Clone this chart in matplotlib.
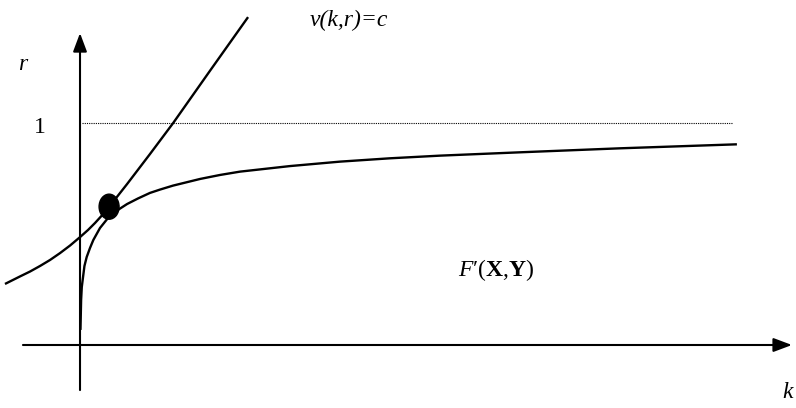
import matplotlib.pyplot as plt
from matplotlib.patches import Ellipse

plt.rcParams['font.family'] = ['Liberation Serif', 'DejaVu Serif']
plt.rcParams['mathtext.fontset'] = 'custom'
plt.rcParams['mathtext.rm'] = 'Liberation Serif'
plt.rcParams['mathtext.it'] = 'Liberation Serif:italic'
plt.rcParams['mathtext.bf'] = 'Liberation Serif:bold'

# F'(X,Y) curve (concave, starts on the r axis)
fk = [0.002, 0.005, 0.008, 0.012, 0.020, 0.030, 0.045, 0.060, 0.090, 0.126, 0.167,
      0.212, 0.261, 0.315, 0.360, 0.419, 0.480, 0.541, 0.631, 0.721, 0.946, 1.171,
      1.396, 1.622, 1.982, 2.432, 2.959]
fr = [0.068, 0.203, 0.261, 0.293, 0.356, 0.396, 0.437, 0.473, 0.527, 0.572, 0.606,
      0.635, 0.660, 0.685, 0.700, 0.718, 0.733, 0.748, 0.766, 0.781, 0.806, 0.826,
      0.841, 0.853, 0.868, 0.886, 0.904]

# v(k,r)=c curve
vk = [-0.338, -0.270, -0.225, -0.180, -0.135, -0.090, -0.045, 0.000, 0.036, 0.068,
      0.099, 0.131, 0.212, 0.315, 0.419, 0.586, 0.757]
vr = [0.275, 0.309, 0.331, 0.356, 0.383, 0.414, 0.448, 0.486, 0.518, 0.550,
      0.584, 0.622, 0.725, 0.860, 0.999, 1.236, 1.477]

# tangency point
pt_k, pt_r = 0.131, 0.623
r_one = 1.0

fig = plt.figure(figsize=(7.96, 4.08), dpi=100)
ax = fig.add_axes([0, 0, 1, 1])
ax.set_xlim(-0.3604, 3.2252)
ax.set_ylim(-0.2838, 1.5541)
ax.axis('off')

arrow = dict(arrowstyle='-|>,head_length=0.8,head_width=0.3', lw=1.5,
             color='black', mutation_scale=14, shrinkA=0, shrinkB=0)
ax.annotate('', xy=(3.207, 0), xytext=(-0.257, 0), arrowprops=arrow)
ax.annotate('', xy=(0, 1.405), xytext=(0, -0.203), arrowprops=arrow)

ax.plot([0.009, 2.941], [r_one, r_one], color='black', lw=0.8, ls=(0, (1, 1)))

ax.plot(fk, fr, color='black', lw=1.7, solid_capstyle='butt', solid_joinstyle='round')
ax.plot(vk, vr, color='black', lw=1.7, solid_capstyle='butt', solid_joinstyle='round')
ax.add_patch(Ellipse((pt_k, pt_r), 0.090, 0.113, color='black'))

ax.text(-0.257, 1.265, 'r', style='italic', fontsize=17, ha='center', va='center')
ax.text(-0.180, 0.982, '1', fontsize=17, ha='center', va='center')
ax.text(1.036, 1.460, 'v(k,r)=c', style='italic', fontsize=17, ha='left', va='center')
ax.text(1.703, 0.338, r"$F$′($\mathbf{X}$,$\mathbf{Y}$)", fontsize=17,
        ha='left', va='center')
ax.text(3.185, -0.216, 'k', style='italic', fontsize=17, ha='center', va='center')

fig.savefig('out.png', dpi=100)
